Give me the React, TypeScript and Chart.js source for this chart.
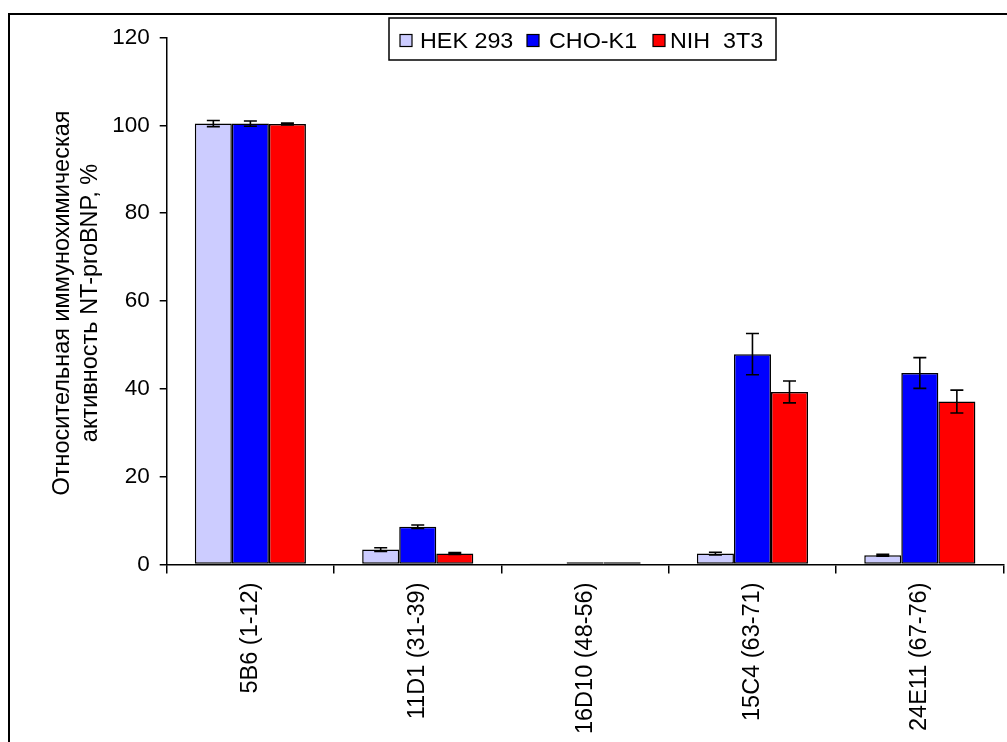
import React, { useEffect, useRef } from "react";
import { Chart, registerables } from "chart.js";

Chart.register(...registerables);

// Antibody (epitope) groups
const categories = ["5B6 (1-12)", "11D1 (31-39)", "16D10 (48-56)", "15C4 (63-71)", "24E11 (67-76)"];

// Cell lines
const seriesNames = ["HEK 293", "CHO-K1", "NIH  3T3"];
const seriesColors = ["#CCCCFF", "#0000FF", "#FF0000"];

// Relative immunochemical activity, %
const hekValues = [100.4, 3.4, 0.1, 2.5, 2.1];
const choValues = [100.4, 8.6, 0.5, 47.9, 43.6];
const nihValues = [100.3, 2.5, 0.5, 39.3, 37.1];

// Error bar half-widths, %
const hekErrors = [0.7, 0.4, 0, 0.3, 0.2];
const choErrors = [0.6, 0.4, 0, 4.7, 3.5];
const nihErrors = [0.2, 0.2, 0, 2.5, 2.6];

const yTitleLines = ["Относительная иммунохимическая", "активность NT-proBNP, %"];
const yMin = 0;
const yMax = 120;
const yStep = 20;

const FONT = "'Liberation Sans', Arial, sans-serif";

export default function App() {
  const canvasRef = useRef<HTMLCanvasElement | null>(null);

  useEffect(() => {
    const canvas = canvasRef.current;
    if (!canvas) return;

    const allValues = [hekValues, choValues, nihValues];
    const allErrors = [hekErrors, choErrors, nihErrors];

    const errorBars = {
      id: "errorBars",
      afterDatasetsDraw(chart: any) {
        const ctx = chart.ctx;
        const yScale = chart.scales.y;
        ctx.save();
        ctx.strokeStyle = "#000";
        ctx.lineWidth = 1.6;
        chart.data.datasets.forEach((ds: any, di: number) => {
          const meta = chart.getDatasetMeta(di);
          meta.data.forEach((bar: any, i: number) => {
            const err = allErrors[di][i];
            if (!err) return;
            const v = allValues[di][i];
            const x = bar.x;
            const yTop = yScale.getPixelForValue(v + err);
            const yBot = yScale.getPixelForValue(v - err);
            const cap = 6.5;
            ctx.beginPath();
            ctx.moveTo(x, yTop);
            ctx.lineTo(x, yBot);
            ctx.moveTo(x - cap, yTop);
            ctx.lineTo(x + cap, yTop);
            ctx.moveTo(x - cap, yBot);
            ctx.lineTo(x + cap, yBot);
            ctx.stroke();
          });
        });
        ctx.restore();
      },
    };

    const decorations = {
      id: "decorations",
      afterDraw(chart: any) {
        const ctx = chart.ctx;
        const area = chart.chartArea;
        ctx.save();

        // outer frame (left and top edges)
        ctx.strokeStyle = "#000";
        ctx.lineWidth = 2;
        ctx.beginPath();
        ctx.moveTo(9, 760);
        ctx.lineTo(9, 14);
        ctx.lineTo(1010, 14);
        ctx.stroke();

        // y-axis title
        ctx.fillStyle = "#000";
        ctx.font = `23.5px ${FONT}`;
        ctx.textAlign = "center";
        ctx.textBaseline = "middle";
        const cy = (area.top + area.bottom) / 2 + 2;
        const lineXs = [63, 91];
        yTitleLines.forEach((line, i) => {
          ctx.save();
          ctx.translate(lineXs[i], cy);
          ctx.rotate(-Math.PI / 2);
          ctx.fillText(line, 0, 0);
          ctx.restore();
        });

        // legend box
        const boxL = 389;
        const boxT = 18;
        const boxR = 776;
        const boxB = 60;
        ctx.fillStyle = "#fff";
        ctx.fillRect(boxL, boxT, boxR - boxL, boxB - boxT);
        ctx.strokeStyle = "#000";
        ctx.lineWidth = 1.5;
        ctx.strokeRect(boxL, boxT, boxR - boxL, boxB - boxT);

        const swatchX = [400, 527, 653];
        const textX = [420, 549, 670];
        const midY = 40.5;
        ctx.font = `22px ${FONT}`;
        ctx.textAlign = "left";
        ctx.textBaseline = "middle";
        seriesNames.forEach((name, i) => {
          ctx.fillStyle = seriesColors[i];
          ctx.fillRect(swatchX[i], midY - 6, 12, 12);
          ctx.strokeStyle = "#000";
          ctx.lineWidth = 1.2;
          ctx.strokeRect(swatchX[i], midY - 6, 12, 12);
          ctx.fillStyle = "#000";
          ctx.save();
          ctx.translate(textX[i], midY + 1);
          ctx.scale(1.06, 1);
          ctx.fillText(name, 0, 0);
          ctx.restore();
        });
        ctx.restore();
      },
    };

    const chart = new Chart(canvas, {
      type: "bar",
      data: {
        labels: categories,
        datasets: seriesNames.map((name, i) => ({
          label: name,
          data: allValues[i],
          backgroundColor: seriesColors[i],
          borderColor: "#000",
          borderWidth: 1.5,
          borderSkipped: false,
          categoryPercentage: 0.664,
          barPercentage: 1,
        })),
      },
      options: {
        animation: false,
        responsive: false,
        maintainAspectRatio: false,
        devicePixelRatio: 1,
        layout: { padding: { left: 0, top: 37.5, right: 3.5, bottom: 0 } },
        plugins: {
          legend: { display: false },
          tooltip: { enabled: false },
          title: { display: false },
        },
        scales: {
          x: {
            offset: true,
            afterFit: (scale: any) => {
              scale.height = 177.5;
            },
            border: { display: true, color: "#000", width: 1.5 },
            grid: {
              offset: true,
              drawOnChartArea: false,
              drawTicks: true,
              tickLength: 9,
              color: "#000",
              lineWidth: 1.5,
            },
            ticks: {
              autoSkip: false,
              minRotation: 90,
              maxRotation: 90,
              padding: 9,
              color: "#000",
              font: { family: FONT, size: 23.5 },
            },
          },
          y: {
            min: yMin,
            max: yMax,
            afterFit: (scale: any) => {
              scale.width = 166.7;
            },
            border: { display: true, color: "#000", width: 1.5 },
            grid: {
              drawOnChartArea: false,
              drawTicks: true,
              tickLength: 7,
              color: "#000",
              lineWidth: 1.5,
            },
            ticks: {
              stepSize: yStep,
              padding: 10,
              color: "#000",
              font: { family: FONT, size: 22.5 },
            },
          },
        },
      },
      plugins: [errorBars, decorations],
    });

    return () => chart.destroy();
  }, []);

  return (
    <div
      style={{
        position: "absolute",
        left: 0,
        top: 0,
        width: 1007,
        height: 742,
        overflow: "hidden",
        background: "#fff",
      }}
    >
      <canvas ref={canvasRef} width={1007} height={742} style={{ display: "block" }} />
    </div>
  );
}
